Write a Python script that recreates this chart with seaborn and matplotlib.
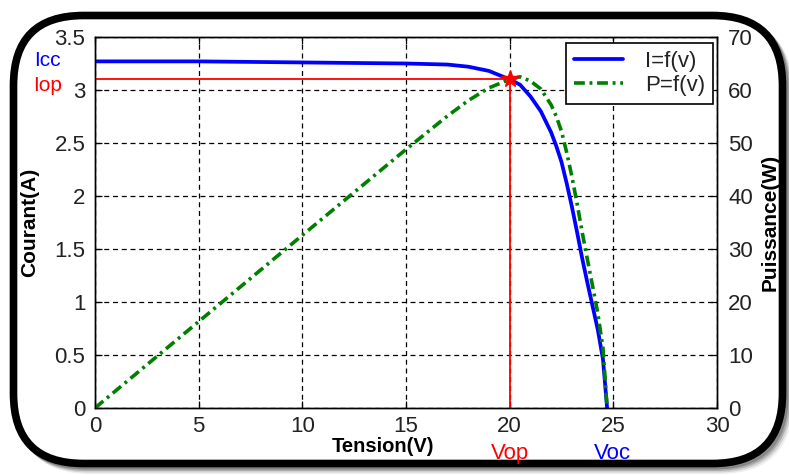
import matplotlib
matplotlib.use('Agg')
import matplotlib.pyplot as plt
import matplotlib.transforms as mtransforms
from matplotlib.patches import FancyBboxPatch
import seaborn as sns
import pandas as pd

# ---- data ----
V = [0, 5, 10, 15, 17, 18, 19, 19.5, 20, 20.5, 21, 21.5, 22, 22.25, 22.5, 22.75, 23,
     23.25, 23.5, 23.75, 24, 24.25, 24.5, 24.7]
I = [3.27, 3.27, 3.26, 3.25, 3.24, 3.22, 3.18, 3.14, 3.10, 3.05, 2.94, 2.80, 2.60, 2.47,
     2.32, 2.12, 1.90, 1.66, 1.41, 1.18, 0.96, 0.74, 0.46, 0.0]
P = [0, 16.3, 32.6, 48.8, 55.1, 58.0, 60.4, 61.2, 62.0, 62.5, 61.7, 60.2, 57.2, 55.0,
     52.2, 48.2, 43.7, 38.6, 33.1, 28.0, 23.0, 17.9, 11.3, 0.0]
V_OP, I_OP = 20.0, 3.10
I_CC = 3.27
V_OC = 24.7
x_ticks = [0, 5, 10, 15, 20, 25, 30]
y_ticks = [0, 0.5, 1, 1.5, 2, 2.5, 3, 3.5]
y_tick_labels = ['0', '0.5', '1', '1.5', '2', '2.5', '3', '3.5']
y2_ticks = [0, 10, 20, 30, 40, 50, 60, 70]
series_names = ['I=f(v)', 'P=f(v)']

df = pd.DataFrame({'V': V, 'I': I, 'P': P})

sns.set_theme(style='white')
plt.rcParams['font.family'] = ['Liberation Sans', 'DejaVu Sans']

W, H = 789, 475
fig = plt.figure(figsize=(W / 100, H / 100), dpi=100)
fig.patch.set_facecolor('white')

# ---- rounded frame with shadow ----
bg = fig.add_axes([0, 0, 1, 1], zorder=0)
bg.set_xlim(0, W)
bg.set_ylim(H, 0)
bg.axis('off')
fx, fy, fw, fh = 13.5, 15.5, 769, 448
for off, a in [(7, 0.10), (5.5, 0.18), (4, 0.30), (2.5, 0.45)]:
    bg.add_patch(FancyBboxPatch((fx + off, fy + off), fw, fh,
                                boxstyle='round,pad=0,rounding_size=70',
                                fc='none', ec='#555555', lw=5, alpha=a))
bg.add_patch(FancyBboxPatch((fx, fy), fw, fh, boxstyle='round,pad=0,rounding_size=70',
                            fc='white', ec='black', lw=5.5))

# ---- main axes ----
ax = fig.add_axes([95 / W, 67 / H, 622 / W, 371 / H], zorder=2)
ax.set_facecolor('white')
ax2 = ax.twinx()

grid_ls = (0, (4, 3))
ax.grid(True, color='black', ls=grid_ls, lw=0.9)
ax.set_axisbelow(True)

sns.lineplot(data=df, x='V', y='I', ax=ax, color='blue', lw=2.7,
             estimator=None, sort=False, legend=False)
ax.plot([0, V_OP], [I_OP, I_OP], color='red', lw=1.3, zorder=3)
ax.plot([V_OP, V_OP], [0, I_OP], color='red', lw=1.3, zorder=3)

sns.lineplot(data=df, x='V', y='P', ax=ax2, color='green', lw=2.6,
             estimator=None, sort=False, legend=False)
ax2.lines[-1].set_dashes((3, 1.3, 0.8, 1.3))
ax2.plot([V_OP], [I_OP * 70 / 3.5], marker='*', ms=13, color='red', zorder=5)

ax.set_xlim(0, 30)
ax.set_ylim(0, 3.5)
ax2.set_ylim(0, 70)
ax.set_xticks(x_ticks)
ax.set_xticklabels([str(t) for t in x_ticks])
ax.set_yticks(y_ticks)
ax.set_yticklabels(y_tick_labels)
ax2.set_yticks(y2_ticks)
ax2.set_yticklabels([str(t) for t in y2_ticks])

for a in (ax, ax2):
    for s in a.spines.values():
        s.set_color('black')
        s.set_linewidth(1.0)
        s.set_visible(True)

ax.tick_params(axis='both', direction='in', length=5, width=0.9, color='black',
               labelcolor='#222222', labelsize=16, pad=6, top=True, right=False,
               left=True, bottom=True)
ax.tick_params(axis='y', pad=7)
ax2.tick_params(axis='y', direction='in', length=5, width=0.9, color='black',
                labelcolor='#222222', labelsize=16, pad=8, right=True)

ax.set_xlabel('Tension(V)', fontweight='bold', fontsize=14.5, color='black')
ax.xaxis.label.set_va('center')
ax.xaxis.set_label_coords(0.463, -0.104)
ax.set_ylabel('Courant(A)', fontweight='bold', fontsize=15, color='black')
ax.yaxis.label.set_va('center')
ax.yaxis.set_label_coords(-0.105, 0.5)
ax2.set_ylabel('Puissance(W)', fontweight='bold', fontsize=15, color='black')
ax2.yaxis.label.set_va('center')
ax2.yaxis.set_label_coords(1.085, 0.5)

# annotations
tr_y = mtransforms.blended_transform_factory(ax.transAxes, ax.transData)
tr_x = mtransforms.blended_transform_factory(ax.transData, ax.transAxes)
ax.text(-0.077, I_CC - 0.08, 'Icc', transform=tr_y, color='blue', ha='center',
        va='bottom', fontsize=15)
ax.text(-0.077, I_OP + 0.03, 'Iop', transform=tr_y, color='red', ha='center',
        va='top', fontsize=15)
ax.text(V_OP, -0.122, 'Vop', transform=tr_x, color='red', ha='center', va='center', fontsize=16)
ax.text(V_OC + 0.25, -0.122, 'Voc', transform=tr_x, color='blue', ha='center', va='center', fontsize=16)

# legend
handles = [ax.lines[0], ax2.lines[0]]
leg = ax2.legend(handles=handles, labels=series_names, loc='upper right',
                 bbox_to_anchor=(0.9936, 0.9838), borderaxespad=0, frameon=True,
                 fancybox=False, edgecolor='black', framealpha=1, fontsize=16,
                 handlelength=2.2, borderpad=0.35, labelspacing=0.15, handletextpad=1.0)
leg.get_frame().set_linewidth(1.2)
for t in leg.get_texts():
    t.set_color('#222222')

fig.savefig('out.png', dpi=100, facecolor='white')
